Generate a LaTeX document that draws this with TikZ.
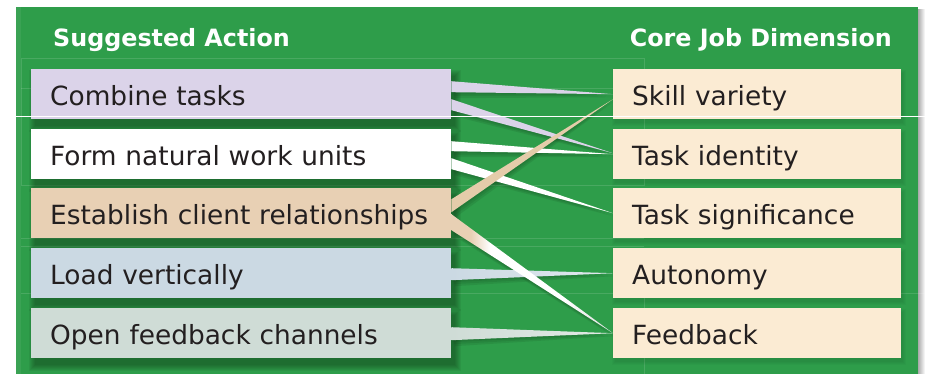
\documentclass[tikz,border=0pt]{standalone}
\usepackage{fontspec}
\setmainfont{DejaVu Sans}
\usetikzlibrary{calc}
\pgfdeclarelayer{back}
\pgfdeclarelayer{shad}
\pgfdeclarelayer{wedg}
\pgfsetlayers{back,shad,wedg,main}
\definecolor{panelgreen}{HTML}{2E9D4A}
\definecolor{shadowgreen}{HTML}{123F1A}
\definecolor{lav}{HTML}{DBD3E9}
\definecolor{tanbox}{HTML}{E8D0B4}
\definecolor{tanwedge}{HTML}{E4CCAA}
\definecolor{bluebox}{HTML}{CBD9E3}
\definecolor{greybox}{HTML}{CFDCD6}
\definecolor{cream}{HTML}{FBEBD3}
\definecolor{ink}{HTML}{231F20}
\definecolor{tipgrey}{HTML}{D6DCDA}
\pgfdeclarehorizontalshading{tanwhite}{100bp}{color(0bp)=(tanbox); color(25bp)=(tanbox); color(31bp)=(tanbox); color(37bp)=(white); color(60bp)=(white); color(75bp)=(tipgrey); color(100bp)=(tipgrey)}

\newcommand\mywedge[4]{%
  \begin{pgfonlayer}{shad}
    \foreach \k in {1,2,3}{%
      \fill[shadowgreen,opacity=0.13] ($(#1)+(\k,2*\k)$) -- ($(#2)+(\k,2*\k)$) -- ($(#3)+(0,\k)$) -- cycle;}
  \end{pgfonlayer}
  \begin{pgfonlayer}{wedg}
    \path[#4] (#1) -- (#2) -- (#3) -- cycle;
  \end{pgfonlayer}}

\begin{document}
\begin{tikzpicture}[x=1pt,y=-1pt,
  lbox/.style={anchor=north west, minimum width=420pt, minimum height=50pt,
    text width=382pt, align=left, inner xsep=19pt, inner ysep=0pt,
    text height=28pt, text depth=6pt, font=\fontsize{26.4}{30}\selectfont, text=ink},
  rbox/.style={lbox, minimum width=288pt, text width=250pt, fill=cream},
  head/.style={font=\fontsize{23.8}{28}\selectfont\bfseries, text=white, inner sep=0pt},
  faint/.style={draw=white, opacity=0.13, line width=0.8pt},
]
\useasboundingbox (0,0) rectangle (925,374);

% panel
\begin{pgfonlayer}{back}
  \fill[white] (0,0) rectangle (925,374);
  \shade[left color=gray!75, right color=white] (917,10) rectangle (925,374);
  \fill[panelgreen] (16,7) rectangle (918,374);
  \fill[white, opacity=0.06] (16,7) rectangle (21,374);
  \draw[faint] (21,58) rectangle (644,185);
  \draw[faint] (21,88) -- (613,88);
  \draw[faint] (21,238) -- (644,238);
  \draw[faint] (21,246) -- (644,246);
  \draw[faint] (21,293) -- (925,293);
  \draw[faint] (644,293) -- (644,374);
\end{pgfonlayer}

% headers
\node[head, anchor=base west] (h1) at (53,47) {Suggested Action};
\node[head, anchor=base east] (h2) at (892,47) {Core Job Dimension};

% left boxes
\node[lbox, fill=lav]     (a1) at (31,69)  {Combine tasks};
\node[lbox, fill=white]   (a2) at (31,129) {Form natural work units};
\node[lbox, fill=tanbox]  (a3) at (31,188) {Establish client relationships};
\node[lbox, fill=bluebox] (a4) at (31,248) {Load vertically};
\node[lbox, fill=greybox] (a5) at (31,308) {Open feedback channels};

% right boxes
\node[rbox] (b1) at (613,69)  {Skill variety};
\node[rbox] (b2) at (613,129) {Task identity};
\node[rbox] (b3) at (613,188) {Task significance};
\node[rbox] (b4) at (613,248) {Autonomy};
\node[rbox] (b5) at (613,308) {Feedback};

% box shadows
\begin{pgfonlayer}{shad}
  \foreach \n in {a1,a2,a3,a4,a5}{
    \foreach \d in {0,...,6}{
      \fill[shadowgreen, opacity=0.09] ($(\n.north west)+(4-\d,7-\d)$) rectangle ($(\n.south east)+(4+\d,7+\d)$);
    }
  }
  \foreach \n in {b1,b2,b3,b4,b5}{
    \foreach \d in {0,...,3}{
      \fill[shadowgreen, opacity=0.04] ($(\n.north west)+(2-\d,4-\d)$) rectangle ($(\n.south east)+(2+\d,4+\d)$);
    }
  }
\end{pgfonlayer}

% connector end points
\coordinate (w1a) at ($(a1.east)+(0,-13)$);
\coordinate (w1b) at ($(a1.east)+(0,-2)$);
\coordinate (w1t) at (b1.west);
\coordinate (w2a) at ($(a1.east)+(0,5)$);
\coordinate (w2b) at ($(a1.east)+(0,16)$);
\coordinate (w2t) at ($(b2.west)+(0,-1)$);
\coordinate (w3a) at ($(a2.east)+(0,-13)$);
\coordinate (w3b) at ($(a2.east)+(0,-3)$);
\coordinate (w3t) at (b2.west);
\coordinate (w4a) at ($(a2.east)+(0,4)$);
\coordinate (w4b) at ($(a2.east)+(0,15)$);
\coordinate (w4t) at (b3.west);
\coordinate (w5a) at ($(a3.east)+(0,-14)$);
\coordinate (w5b) at ($(a3.east)+(0,-1)$);
\coordinate (w5t) at ($(b1.west)+(0,5)$);
\coordinate (w6a) at ($(a3.east)+(0,1)$);
\coordinate (w6b) at ($(a3.east)+(0,17)$);
\coordinate (w6t) at (b5.west);
\coordinate (w7a) at ($(a4.east)+(0,-5)$);
\coordinate (w7b) at ($(a4.east)+(0,7)$);
\coordinate (w7t) at (b4.west);
\coordinate (w8a) at ($(a5.east)+(0,-6)$);
\coordinate (w8b) at ($(a5.east)+(0,7)$);
\coordinate (w8t) at (b5.west);

% connectors (tapered wedges)
\mywedge{w7a}{w7b}{w7t}{left color=bluebox, right color=bluebox!60!white}
\mywedge{w8a}{w8b}{w8t}{left color=greybox, right color=greybox!60!white}
\mywedge{w1a}{w1b}{w1t}{fill=lav}
\mywedge{w2a}{w2b}{w2t}{fill=lav}
\mywedge{w3a}{w3b}{w3t}{fill=white}
\mywedge{w4a}{w4b}{w4t}{fill=white}
\mywedge{w6a}{w6b}{w6t}{shading=tanwhite}
\mywedge{w5a}{w5b}{w5t}{fill=tanwedge}

% scan line
\draw[white, line width=1pt] (16,116.5) -- (925,116.5);
\end{tikzpicture}
\end{document}
